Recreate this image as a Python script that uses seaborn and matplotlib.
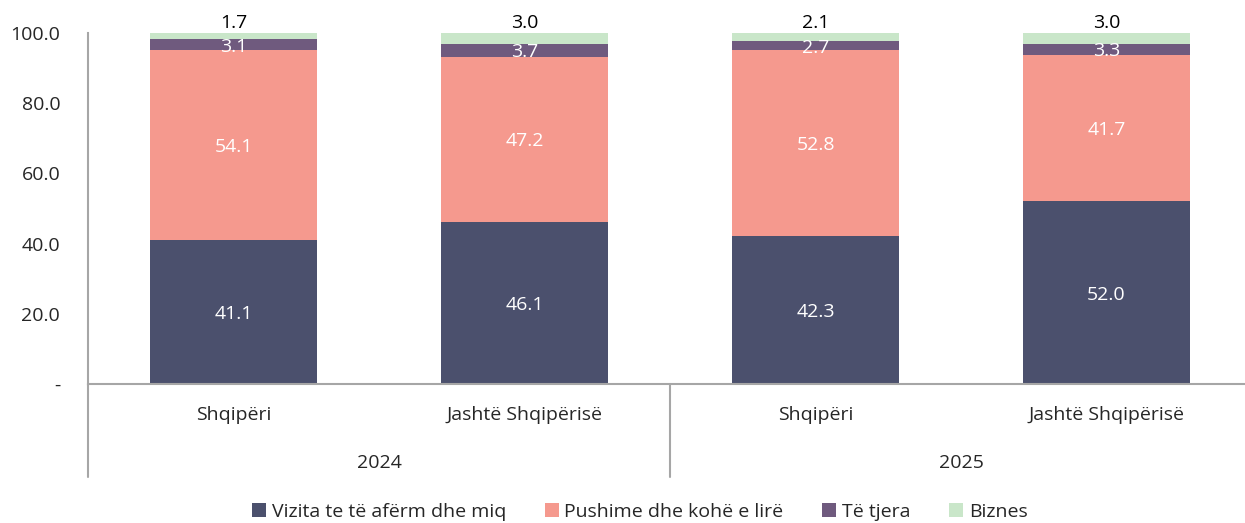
#
#   Packages and modules
#
import pandas as pd
import seaborn as sns
from matplotlib import pyplot as plt
from matplotlib import transforms


#
#   Chart data
#
years = ["2024", "2024", "2025", "2025"]
places = ["Shqipëri", "Jashtë Shqipërisë", "Shqipëri", "Jashtë Shqipërisë"]

series_names = ["Vizita te të afërm dhe miq", "Pushime dhe kohë e lirë",
                "Të tjera", "Biznes"]
vizita = [41.1, 46.1, 42.3, 52.0]
pushime = [54.1, 47.2, 52.8, 41.7]
te_tjera = [3.1, 3.7, 2.7, 3.3]
biznes = [1.7, 3.0, 2.1, 3.0]

y_ticks = [0, 20, 40, 60, 80, 100]
y_tick_labels = ["-", "20.0", "40.0", "60.0", "80.0", "100.0"]

colours = ["#4b506d", "#f5998e", "#6f5a7e", "#c9e6c9"]


def main():

    '''
    Stacked bar chart of trip purpose, grouped by year
    '''

    sns.set_style("white")
    plt.rcParams['font.family'] = ['Open Sans', 'DejaVu Sans']
    fs = 14

    keys = [y + " " + p for y, p in zip(years, places)]
    df = pd.DataFrame({"key": keys, "year": years, "place": places})
    all_values = [vizita, pushime, te_tjera, biznes]

    fig = plt.figure(figsize=(12.45, 5.23), dpi=100)
    ax = fig.add_axes([88 / 1245, 139 / 523, 1164 / 1245, 351 / 523])

    # stack the series one by one, each on top of the ones before it
    bottom = [0.0] * len(keys)
    for name, values, colour in zip(series_names, all_values, colours):
        df[name] = values
        sns.barplot(data=df, x="key", y=name, bottom=bottom, color=colour,
                    width=0.575, label=name, ax=ax, linewidth=0,
                    saturation=1, order=keys)
        for i, v in enumerate(values):
            if name == "Biznes":
                ax.annotate("{:.1f}".format(v), (i, bottom[i] + v),
                            xytext=(0, 1), textcoords="offset points",
                            ha="center", va="bottom", fontsize=fs,
                            color="black", annotation_clip=False)
            else:
                ax.text(i, bottom[i] + v / 2 - 0.6, "{:.1f}".format(v),
                        ha="center", va="center", fontsize=fs,
                        color="white")
        bottom = [b + v for b, v in zip(bottom, values)]

    handles, labels = ax.get_legend_handles_labels()
    if ax.get_legend() is not None:
        ax.get_legend().remove()

    ax.set_xlim(-0.5, 3.5)
    ax.set_ylim(0, 100)
    ax.set_yticks(y_ticks)
    ax.set_yticklabels(y_tick_labels, fontsize=fs)
    ax.tick_params(axis="y", length=0, pad=20)
    ax.set_xticks([])
    ax.set_xlabel("")
    ax.set_ylabel("")

    for side in ["top", "right"]:
        ax.spines[side].set_visible(False)
    for side in ["left", "bottom"]:
        ax.spines[side].set_color("#a6a6a6")
        ax.spines[side].set_linewidth(1.5)

    # two level category axis: place names, then the year
    trans = transforms.blended_transform_factory(ax.transData, ax.transAxes)
    for i, p in enumerate(places):
        ax.text(i, -0.088, p, transform=trans, ha="center", va="center",
                fontsize=fs)
    for j, y in enumerate(["2024", "2025"]):
        ax.text(2 * j + 0.5, -0.225, y, transform=trans, ha="center",
                va="center", fontsize=fs)
    for x in [-0.5, 1.5, 3.5]:
        ax.plot([x, x], [0, -0.265], transform=trans, color="#a6a6a6",
                linewidth=1.5, clip_on=False)

    fig.legend(handles, labels, loc="center", bbox_to_anchor=(0.514, 0.021),
               ncol=4, frameon=False, fontsize=fs, handlelength=0.7,
               handleheight=0.7, handletextpad=0.3, columnspacing=2.0)

    fig.savefig("out.png", dpi=100)


main()
